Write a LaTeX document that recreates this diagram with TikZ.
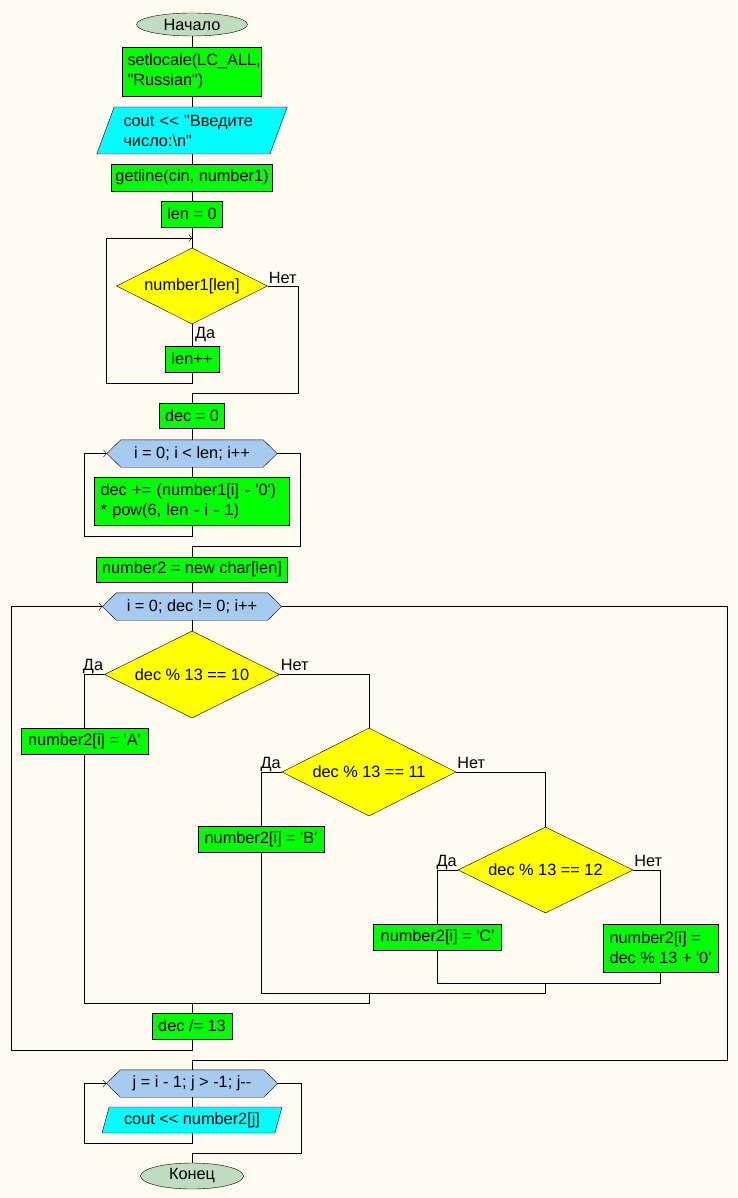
\documentclass[tikz,border=0pt]{standalone}
\usepackage{fontspec}
\setmainfont{Liberation Sans}[Ligatures=TeXOff]
\usetikzlibrary{shapes.geometric,arrows.meta,calc}
\pgfdeclarelayer{paperlayer}
\pgfdeclarelayer{shapelayer}
\pgfsetlayers{paperlayer,shapelayer,main}

\definecolor{paper}{HTML}{FFFBF0}
\definecolor{procgreen}{HTML}{00FF00}
\definecolor{iocyan}{HTML}{00FFFF}
\definecolor{condyellow}{HTML}{FFFF00}
\definecolor{loopblue}{HTML}{A6CAF0}
\definecolor{termgreen}{HTML}{C0DCC0}

% hexagonal loop header drawn behind a named text node
\newcommand\loophex[1]{%
  \begin{pgfonlayer}{shapelayer}
    \draw[fill=loopblue] (#1.west) -- ([xshift=14pt]#1.north west)
      -- ([xshift=-14pt]#1.north east) -- (#1.east)
      -- ([xshift=-14pt]#1.south east) -- ([xshift=14pt]#1.south west) -- cycle;
  \end{pgfonlayer}}

\begin{document}
\begin{tikzpicture}[x=1pt,y=-1pt,line width=1pt,
  every node/.style={font=\fontsize{16.3}{20}\selectfont,inner sep=0pt},
  proc/.style={draw,fill=procgreen,rectangle},
  term/.style={draw,fill=termgreen,ellipse},
  io/.style={draw,fill=iocyan,trapezium,trapezium stretches=true},
  cond/.style={draw,fill=condyellow,diamond,aspect=2},
  loophead/.style={rectangle,minimum height=27pt},
  entry/.style={-{Straight Barb[length=3pt,width=7pt]}}]

\begin{pgfonlayer}{paperlayer}
  \fill[paper] (0,0) rectangle (737,1198);
\end{pgfonlayer}
\useasboundingbox (0,0) rectangle (737,1198);

% main column
\node[term,minimum width=111pt,minimum height=23pt] (start) at (192,24.5) {Начало};
\node[proc,minimum width=139pt,minimum height=49pt,text width=129pt,align=left] (setloc) at (192,71.5) {setlocale(LC\_ALL,\\"Russian")};
\node[io,trapezium left angle=64,trapezium right angle=116,minimum width=191pt,minimum height=47pt,text width=137pt,align=left] (p1) at (192,130.5) {cout << "Введите\\число:\textbackslash n"};
\node[proc,minimum width=161pt,minimum height=27pt] (getl) at (192,177.5) {getline(cin, number1)};
\node[proc,minimum width=61pt,minimum height=26pt] (len0) at (192,214) {len = 0};
\node[cond,minimum width=151pt,minimum height=76pt] (d1) at (192,286) {number1[len]};
\node[proc,minimum width=54pt,minimum height=26pt] (lenpp) at (192,359) {len++};
\node[proc,minimum width=65pt,minimum height=25pt] (dec0) at (192,415.5) {dec = 0};
\node[loophead,minimum width=170pt] (h1) at (192,453.5) {i = 0; i < len; i++};
\loophex{h1}
\node[proc,minimum width=195pt,minimum height=48pt,text width=183pt,align=left] (body) at (192,501) {dec += (number1[i] - '0')\\{}* pow(6, len - i - 1)};
\node[proc,minimum width=191pt,minimum height=25pt] (n2) at (192,569.5) {number2 = new char[len]};
\node[loophead,minimum width=179pt] (h2) at (192,606.5) {i = 0; dec != 0; i++};
\loophex{h2}

% digit selection
\node[cond,minimum width=175pt,minimum height=87pt] (dA) at (192,674.5) {dec \% 13 == 10};
\node[proc,minimum width=127pt,minimum height=26pt] (boxA) at (84.5,741) {number2[i] = 'A'};
\node[cond,minimum width=174pt,minimum height=88pt] (dB) at (369,772) {dec \% 13 == 11};
\node[proc,minimum width=126pt,minimum height=26pt] (boxB) at (261,839) {number2[i] = 'B'};
\node[cond,minimum width=175pt,minimum height=86pt] (dC) at (545.5,870) {dec \% 13 == 12};
\node[proc,minimum width=128pt,minimum height=26pt] (boxC) at (437.5,937) {number2[i] = 'C'};
\node[proc,minimum width=115pt,minimum height=48pt,align=left] (boxD) at (660.5,948) {number2[i] =\\dec \% 13 + '0'};
\node[proc,minimum width=80pt,minimum height=26pt] (decdiv) at (192,1026) {dec /= 13};

% output loop
\node[loophead,minimum width=171pt] (h3) at (192,1083.5) {j = i - 1; j > -1; j--};
\loophex{h3}
\node[io,trapezium left angle=69,trapezium right angle=111,minimum width=180pt,minimum height=26pt] (p2) at (192,1120) {cout << number2[j]};
\node[term,minimum width=103pt,minimum height=26pt] (stop) at (192,1176) {Конец};

% branch labels
\node[anchor=base west] (d1no) at ($(d1.east)+(1,-3)$) {Нет};
\node[anchor=base west] (d1yes) at ($(d1.south)+(3,14)$) {Да};
\node[anchor=base east] (dAyes) at ($(dA.west)+(-1,-4)$) {Да};
\node[anchor=base west] (dAno) at ($(dA.east)+(1,-4)$) {Нет};
\node[anchor=base east] (dByes) at ($(dB.west)+(-1,-4)$) {Да};
\node[anchor=base west] (dBno) at ($(dB.east)+(1,-4)$) {Нет};
\node[anchor=base east] (dCyes) at ($(dC.west)+(-1,-4)$) {Да};
\node[anchor=base west] (dCno) at ($(dC.east)+(1,-4)$) {Нет};

% routing points
\coordinate (w1) at (192,238);
\coordinate (lb1) at (106,383);
\coordinate (rb1) at (298,393);
\coordinate (lb2) at (84,536);
\coordinate (rb2) at (300,546);
\coordinate (m3) at (545.5,983);
\coordinate (m2) at (369,993);
\coordinate (m1) at (192,1003);
\coordinate (lb3) at (11,1050);
\coordinate (rb3) at (727,1060);
\coordinate (lb4) at (84,1143);
\coordinate (rb4) at (301,1153);

% connectors
\draw (start) -- (setloc);
\draw (setloc.south) -- (p1.center |- p1.north);
\draw (p1.center |- p1.south) -- (getl.north);
\draw (getl) -- (len0);
\draw (len0) -- (d1);
\draw (d1) -- (lenpp);
\draw[entry] (lenpp.south) |- (lb1) |- (w1);
\draw (d1.east) -| (rb1) -| (dec0.north);
\draw (dec0) -- (h1);
\draw (h1) -- (body);
\draw[entry] (body.south) |- (lb2) |- (h1.west);
\draw (h1.east) -| (rb2) -| (n2.north);
\draw (n2) -- (h2);
\draw (h2) -- (dA);
\draw (dA.west) -| (boxA.north);
\draw (dA.east) -| (dB.north);
\draw (dB.west) -| (boxB.north);
\draw (dB.east) -| (dC.north);
\draw (dC.west) -| (boxC.north);
\draw (dC.east) -| (boxD.north);
\draw (boxC.south) |- (m3);
\draw (boxD.south) |- (m3);
\draw (m3) |- (m2);
\draw (boxB.south) |- (m2);
\draw (m2) |- (m1);
\draw (boxA.south) |- (m1);
\draw (m1) -- (decdiv);
\draw[entry] (decdiv.south) |- (lb3) |- (h2.west);
\draw (h2.east) -| (rb3) -| (h3.north);
\draw (h3.south) -- (p2.center |- p2.north);
\draw[entry] (p2.center |- p2.south) |- (lb4) |- (h3.west);
\draw (h3.east) -| (rb4) -| (stop.north);
\end{tikzpicture}
\end{document}
